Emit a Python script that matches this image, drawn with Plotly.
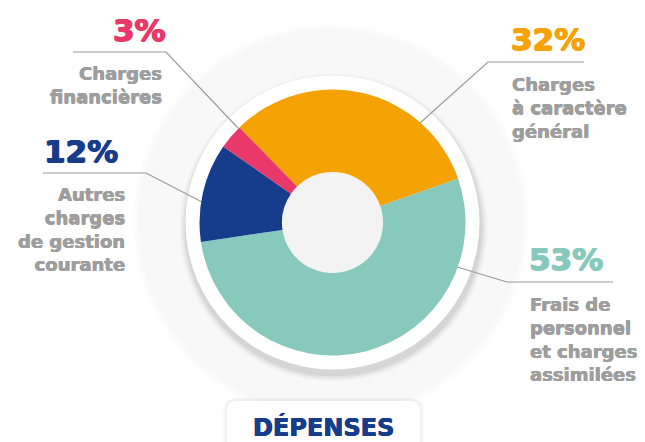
import plotly.graph_objects as go

# ---- data ----
categories = ["Charges à caractère général", "Frais de personnel et charges assimilées",
              "Autres charges de gestion courante", "Charges financières"]
values = [32, 53, 12, 3]
pct_labels = ["32%", "53%", "12%", "3%"]
label_lines = ["Charges<br>à caractère<br>général",
               "Frais de<br>personnel<br>et charges<br>assimilées",
               "Autres<br>charges<br>de gestion<br>courante",
               "Charges<br>financières"]
title_text = "DÉPENSES"

colors = ["#F5A205", "#87CABD", "#163D8B", "#E9396B"]
GREY = "#9E9E9E"
LINE = "#9A9A9A"
# page has an 8px body margin: figure covers window pixels 8..645 / 8..442
OFF = 8
W, H = 645 - OFF, 442 - OFF
cx, cy = 332.5, 222.5
R = 133

fig = go.Figure()
# invisible trace to create pixel-coordinate axes for shapes
fig.add_trace(go.Scatter(x=[OFF, 645], y=[OFF, 442], mode="markers",
                         marker=dict(opacity=0), hoverinfo="skip", showlegend=False))

fig.add_trace(go.Pie(
    values=values, labels=categories, sort=False, direction="clockwise",
    rotation=-44.4, hole=0.38, textinfo="none", hoverinfo="label+percent",
    marker=dict(colors=colors, line=dict(width=0)), showlegend=False,
    domain=dict(x=[(cx - OFF - R) / W, (cx - OFF + R) / W],
                y=[(442 - cy - R) / H, (442 - cy + R) / H]),
))

shapes = []
def circle(x, y, r, fill, opacity=1.0):
    shapes.append(dict(type="circle", xref="x", yref="y", x0=x - r, x1=x + r,
                       y0=y - r, y1=y + r, fillcolor=fill, opacity=opacity,
                       line=dict(width=0), layer="below"))

# faint outer disc with soft edge
circle(331, 222, 198, "#FDFDFD")
circle(331, 222, 195, "#FAFAFA")
circle(331, 222, 192, "#F8F8F8")
# shadow under white ring
for k, op in [(12, 0.02), (9, 0.03), (6, 0.04), (3, 0.05)]:
    circle(cx + 1, cy + 5, 147 + k * 0.6, "#000000", op)
circle(cx, cy, 147, "#FFFFFF")
circle(cx, cy, 50.5, "#F3F3F3")

# box for title with shadow
def rrect(x0, y0, x1, y1, r, fill, op=1.0):
    path = (f"M {x0+r},{y0} L {x1-r},{y0} Q {x1},{y0} {x1},{y0+r} L {x1},{y1} "
            f"L {x0},{y1} L {x0},{y0+r} Q {x0},{y0} {x0+r},{y0} Z")
    shapes.append(dict(type="path", xref="x", yref="y", path=path, fillcolor=fill,
                       opacity=op, line=dict(width=0), layer="below"))
rrect(223, 397, 424, 450, 14, "#000000", 0.025)
rrect(225, 399, 422, 450, 12, "#000000", 0.035)
rrect(227, 401, 420, 450, 10, "#FFFFFF")

# leader lines
leaders = [
    [(584, 62), (488, 62), (420, 123)],
    [(613, 282), (507, 282), (457, 267)],
    [(43, 173), (146, 173), (202, 202)],
    [(73, 52), (166, 52), (238, 128)],
]
for pts in leaders:
    path = "M " + " L ".join(f"{x},{y}" for x, y in pts)
    shapes.append(dict(type="path", xref="x", yref="y", path=path,
                       line=dict(color=LINE, width=1.2), layer="below"))

FONT = "DejaVu Sans"
def heavy(c, d=0.7):
    return f"{d}px 0 0 {c}, -{d}px 0 0 {c}, 0 {d}px 0 {c}"

ann = []
# percent labels: (x, top, anchor)
pct_pos = [(509, 19, "left"), (527, 239, "left"), (42, 131, "left"), (168, 10, "right")]
lab_pos = [(510, 72, "left"), (528, 292, "left"), (127, 182, "right"), (164, 61, "right")]
for i in range(4):
    x, y, a = pct_pos[i]
    ann.append(dict(x=x, y=y, xref="x", yref="y", text=f"<b>{pct_labels[i]}</b>",
                    xanchor=a, yanchor="top", showarrow=False,
                    font=dict(family=FONT, size=31, color=colors[i],
                              shadow=heavy(colors[i]))))
    x, y, a = lab_pos[i]
    ann.append(dict(x=x, y=y, xref="x", yref="y", text=f"<b>{label_lines[i]}</b>",
                    xanchor=a, yanchor="top", align=a, showarrow=False,
                    font=dict(family=FONT, size=18, color=GREY,
                              shadow=heavy(GREY, 0.3))))
ann.append(dict(x=323, y=427, xref="x", yref="y", text=f"<b>{title_text}</b>",
                xanchor="center", yanchor="middle", showarrow=False,
                font=dict(family=FONT, size=24, color="#163D8B",
                          shadow=heavy("#163D8B", 0.4))))

fig.update_layout(
    width=W, height=H, margin=dict(l=0, r=0, t=0, b=0),
    paper_bgcolor="#FFFFFF", plot_bgcolor="#FFFFFF",
    xaxis=dict(range=[OFF, 645], visible=False, fixedrange=True),
    yaxis=dict(range=[442, OFF], visible=False, fixedrange=True),
    shapes=shapes, annotations=ann, showlegend=False,
)
fig.write_html("out.html")
